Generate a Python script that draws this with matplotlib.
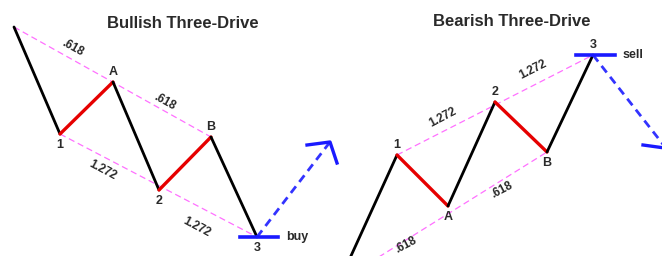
import numpy as np
import matplotlib.pyplot as plt

plt.rcParams['font.family'] = ['Liberation Sans', 'DejaVu Sans']

# 看涨三驱动 (像素坐标, y向下)
bull_x = [14, 60, 113, 159, 211, 257]
bull_y = [27, 134, 82, 190, 137, 237]
bull_pts = ['', '1', 'A', '2', 'B', '3']
bull_arrow = [(257, 237), (330, 142)]
bull_head = [(307, 145), (330, 142), (337, 163)]

# 看跌三驱动
bear_x = [340, 397, 448, 495, 547, 593]
bear_y = [280, 155, 206, 102, 152, 55]
bear_pts = ['', '1', 'A', '2', 'B', '3']
bear_arrow = [(593, 55), (680, 166)]
bear_head = [(643, 145), (672, 149)]

ratios = ['.618', '.618', '1.272', '1.272']

fig = plt.figure(figsize=(6.62, 2.56), dpi=100)
ax = fig.add_axes([0, 0, 1, 1])
ax.set_xlim(0, 662)
ax.set_ylim(256, 0)
ax.axis('off')

pink = '#ff70ff'
txt = '#2a2a2a'


def seg_colors(i):
    return 'black' if i % 2 == 0 else '#e60000'


def draw(xs, ys, pts, arrow, head, hline, side_label, bull):
    # 粉色虚线通道
    if bull:
        ax.plot([xs[0], xs[4]], [ys[0], ys[4]], '--', color=pink, lw=0.9, dashes=(5, 3))
        ax.plot([xs[1], xs[5]], [ys[1], ys[5]], '--', color=pink, lw=0.9, dashes=(5, 3))
    else:
        ax.plot([xs[0] + 10, xs[4]], [ys[0] - 5, ys[4]], '--', color=pink, lw=0.9, dashes=(5, 3))
        ax.plot([xs[1], xs[5]], [ys[1], ys[5]], '--', color=pink, lw=0.9, dashes=(5, 3))
    for i in range(len(xs) - 1):
        ax.plot(xs[i:i + 2], ys[i:i + 2], color=seg_colors(i), lw=2.0 if i % 2 == 0 else 2.4,
                solid_capstyle='round', zorder=3)
    ax.plot([p[0] for p in arrow], [p[1] for p in arrow], '--', color='#3333ff', lw=2.0,
            dashes=(3, 2), zorder=3)
    ax.plot([p[0] for p in head], [p[1] for p in head], color='#1a1aff', lw=2.4, zorder=3)
    ax.plot(hline, [ys[5], ys[5]], color='#1a1aff', lw=2.6, zorder=4)
    lx = hline[1] + 8
    ax.text(lx, ys[5], side_label, ha='left', va='center', fontsize=9,
            fontweight='bold', color=txt)
    for i, p in enumerate(pts):
        if not p:
            continue
        low = (ys[i] > ys[i - 1]) if i > 0 else False
        dy = 11 if low else -10
        ax.text(xs[i], ys[i] + dy, p, ha='center', va='center', fontsize=9,
                fontweight='bold', color=txt)


draw(bull_x, bull_y, bull_pts, bull_arrow, bull_head, [240, 278], 'buy', True)
draw(bear_x, bear_y, bear_pts, bear_arrow, bear_head, [576, 615], 'sell', False)

ax.text(183, 23, 'Bullish Three-Drive', ha='center', va='center', fontsize=12,
        fontweight='bold', color=txt)
ax.text(512, 21, 'Bearish Three-Drive', ha='center', va='center', fontsize=12,
        fontweight='bold', color=txt)

# 比例标签
lab_pos = [(73, 48, -29), (165, 102, -29), (103, 170, -28), (197, 227, -28),
           (443, 117, 28), (533, 70, 27), (502, 190, 28), (406, 245, 28)]
lab_txt = ratios + ['1.272', '1.272', '.618', '.618']
for (x, y, r), t in zip(lab_pos, lab_txt):
    ax.text(x, y, t, ha='center', va='center', rotation=r, fontsize=8.5,
            fontweight='bold', color=txt)

fig.savefig('out.png', dpi=100)
